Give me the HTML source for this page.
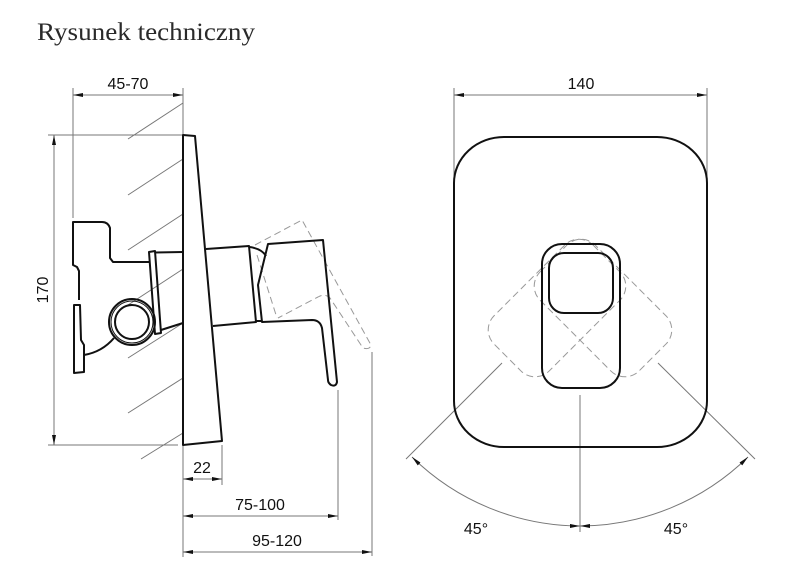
<!DOCTYPE html>
<html><head><meta charset="utf-8"><style>
html,body{margin:0;padding:0;background:#fff;}
svg{display:block;}
text{font-family:"Liberation Sans",sans-serif;font-size:16px;fill:#111;}
</style></head><body>
<svg width="810" height="572" viewBox="0 0 810 572" xmlns="http://www.w3.org/2000/svg">
<defs>
<marker id="a" viewBox="0 0 10 4" refX="10" refY="2" markerWidth="10" markerHeight="4" orient="auto-start-reverse" markerUnits="userSpaceOnUse"><path d="M0,0 L10,2 L0,4 Z" fill="#111"/></marker>
</defs>
<text x="37" y="40" style="font-family:'Liberation Serif',serif;font-size:25px;fill:#2a2a2a" textLength="218" lengthAdjust="spacingAndGlyphs">Rysunek techniczny</text>

<g stroke="#777" stroke-width="1" fill="none">
<line x1="73" y1="88" x2="73" y2="218"/>
<line x1="183" y1="88" x2="183" y2="135"/>
<line x1="48" y1="135" x2="183" y2="135"/>
<line x1="48" y1="445" x2="178" y2="445"/>
<line x1="183" y1="445" x2="183" y2="557"/>
<line x1="222" y1="445" x2="222" y2="485"/>
<line x1="338" y1="390" x2="338" y2="520"/>
<line x1="372" y1="352" x2="372" y2="556"/>
<line x1="128" y1="139" x2="183" y2="103"/>
<line x1="128" y1="195" x2="183" y2="159"/>
<line x1="128" y1="250" x2="183" y2="214"/>
<line x1="128" y1="305" x2="183" y2="269"/>
<line x1="128" y1="358" x2="183" y2="323"/>
<line x1="128" y1="413" x2="183" y2="378"/>
<line x1="141" y1="459" x2="183" y2="433"/>
<line x1="454" y1="88" x2="454" y2="180"/>
<line x1="707" y1="88" x2="707" y2="180"/>
<line x1="580" y1="395" x2="580" y2="532"/>
<line x1="502" y1="363" x2="406" y2="459"/>
<line x1="658" y1="363" x2="755" y2="459"/>
</g>
<g stroke="#777" stroke-width="1" fill="none">
<line x1="73" y1="95" x2="183" y2="95" marker-start="url(#a)" marker-end="url(#a)"/>
<line x1="54" y1="135" x2="54" y2="445" marker-start="url(#a)" marker-end="url(#a)"/>
<line x1="183" y1="479" x2="222" y2="479" marker-start="url(#a)" marker-end="url(#a)"/>
<line x1="183" y1="516" x2="338" y2="516" marker-start="url(#a)" marker-end="url(#a)"/>
<line x1="183" y1="552" x2="372" y2="552" marker-start="url(#a)" marker-end="url(#a)"/>
<line x1="454" y1="95" x2="707" y2="95" marker-start="url(#a)" marker-end="url(#a)"/>
<path d="M412,457 A241,241 0 0 0 580,526" marker-start="url(#a)" marker-end="url(#a)"/>
<path d="M580,526 A241,241 0 0 0 748,457" marker-start="url(#a)" marker-end="url(#a)"/>
</g>

<text x="128" y="89" text-anchor="middle">45-70</text>
<text x="581" y="89" text-anchor="middle">140</text>
<text transform="translate(48,290) rotate(-90)" text-anchor="middle">170</text>
<text x="202" y="473" text-anchor="middle">22</text>
<text x="260" y="510" text-anchor="middle">75-100</text>
<text x="277" y="546" text-anchor="middle">95-120</text>
<text x="476" y="534" text-anchor="middle">45°</text>
<text x="676" y="534" text-anchor="middle">45°</text>

<g stroke="#999" stroke-width="1" fill="none" stroke-dasharray="7,4">
<path d="M255,245 L302,220 L371,345 Q370,350 363,348 L330,298 Q325,293 318,297 L278,318"/>
<line x1="257" y1="255" x2="277" y2="318"/>
<rect x="-39" y="-70" width="78" height="140" rx="20" transform="translate(557,308) rotate(45)"/>
<rect x="-39" y="-70" width="78" height="140" rx="20" transform="translate(603,308) rotate(-45)"/>
</g>

<g stroke="#111" stroke-width="2" fill="none" stroke-linejoin="round">
<path d="M183,135 L195,136 L222,441 L183,445 Z" fill="#fff"/>
<path d="M149,262 L113,262 L110,258 L110,228 Q108,222 102,222 L73,222 L73,265 L77,267 L79,271 L79,300"/>
<path d="M74,305 L80,305 L81,340 L84,345 L84,372 L74,373 Z"/>
<path d="M84,355 Q102,352 114,338"/>
<path d="M155,252.5 L183,252"/>
<path d="M161,330 L183,323"/>
<path d="M149,252 L155,251 L161,333 L155,334 Z"/>
<circle cx="132" cy="322" r="23"/>
<circle cx="132" cy="322" r="17"/>
<path d="M206,249 L249,246 L256,322 L213,326"/>
<path d="M250,247 Q262,249 266,256"/>
<path d="M256,321 L262,321"/>
<path d="M262,322 L258,285 L268,244 L323,240 L337,382 Q336,387 331,385 Q328,383 328,380 L322,328 Q320,320 312,320 L262,322 Z"/>
<rect x="454" y="137" width="253" height="310" rx="50" ry="46"/>
<rect x="542" y="244" width="78" height="144" rx="20"/>
<rect x="549" y="253" width="64" height="60" rx="15"/>
</g>
<circle cx="132" cy="322" r="21" stroke="#111" stroke-width="1" fill="none"/>
</svg>
</body></html>
